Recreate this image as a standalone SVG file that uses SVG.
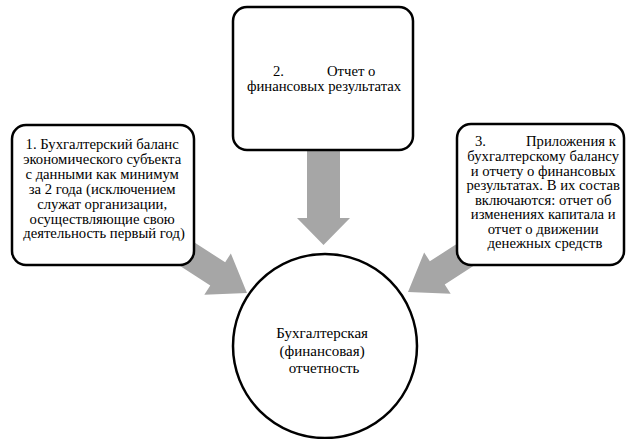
<svg xmlns="http://www.w3.org/2000/svg" width="627" height="439" viewBox="0 0 627 439">
<style>
.box{fill:#fff;stroke:#000;stroke-width:2.5}
.arr{fill:#a6a6a6;stroke:none}
text{font-family:'Liberation Serif','DejaVu Serif',serif;font-size:14.7px;fill:#000;text-anchor:middle}
.tl{text-anchor:start}
.c{font-size:15px}
</style>
<rect width="627" height="439" fill="#fff"/>
<g id="connectors">
<polygon class="arr" transform="translate(247,293) rotate(32.8)" points="0,0 -35,-24.5 -35,-14 -130,-14 -130,13.5 -35,13.5 -35,24.5"/>
<polygon class="arr" transform="translate(408,292) rotate(147.2)" points="0,0 -35,-24.5 -35,-13.5 -130,-13.5 -130,14 -35,14 -35,24.5"/>
<polygon class="arr" points="307,150 340,150 340,218 350,218 323.5,245 297,218 307,218"/>
</g>
<g id="node1">
<rect class="box" x="12" y="125" width="182" height="140" rx="14"/>
<text x="104">
<tspan x="104" y="149">1. Бухгалтерский баланс</tspan>
<tspan x="104" y="164">экономического субъекта</tspan>
<tspan x="104" y="179">с данными как минимум</tspan>
<tspan x="104" y="194">за 2 года (исключением</tspan>
<tspan x="104" y="209">служат организации,</tspan>
<tspan x="104" y="223.5">осуществляющие свою</tspan>
<tspan x="104" y="238">деятельность первый год)</tspan>
</text>
</g>
<g id="node2">
<rect class="box" x="233" y="7" width="180" height="143" rx="14"/>
<text class="tl" x="273" y="76">2.</text>
<text class="tl" x="327" y="76">Отчет о</text>
<text x="324" y="91">финансовых результатах</text>
</g>
<g id="node3">
<rect class="box" x="457" y="124" width="167" height="141" rx="14"/>
<text class="tl" x="475" y="146">3.</text>
<text class="tl" x="526" y="146">Приложения к</text>
<text x="545">
<tspan x="545" y="161">бухгалтерскому балансу</tspan>
<tspan x="545" y="175.5">и отчету о финансовых</tspan>
<tspan x="545" y="190">результатах. В их состав</tspan>
<tspan x="545" y="204.5">включаются: отчет об</tspan>
<tspan x="545" y="219">изменениях капитала и</tspan>
<tspan x="545" y="233.5">отчет о движении</tspan>
<tspan x="545" y="248">денежных средств</tspan>
</text>
</g>
<g id="node4">
<circle class="box" cx="325" cy="346" r="92"/>
<text class="c" x="324">
<tspan x="324" y="338">Бухгалтерская</tspan>
<tspan x="324" y="355.5">(финансовая)</tspan>
<tspan x="324" y="373">отчетность</tspan>
</text>
</g>
</svg>
